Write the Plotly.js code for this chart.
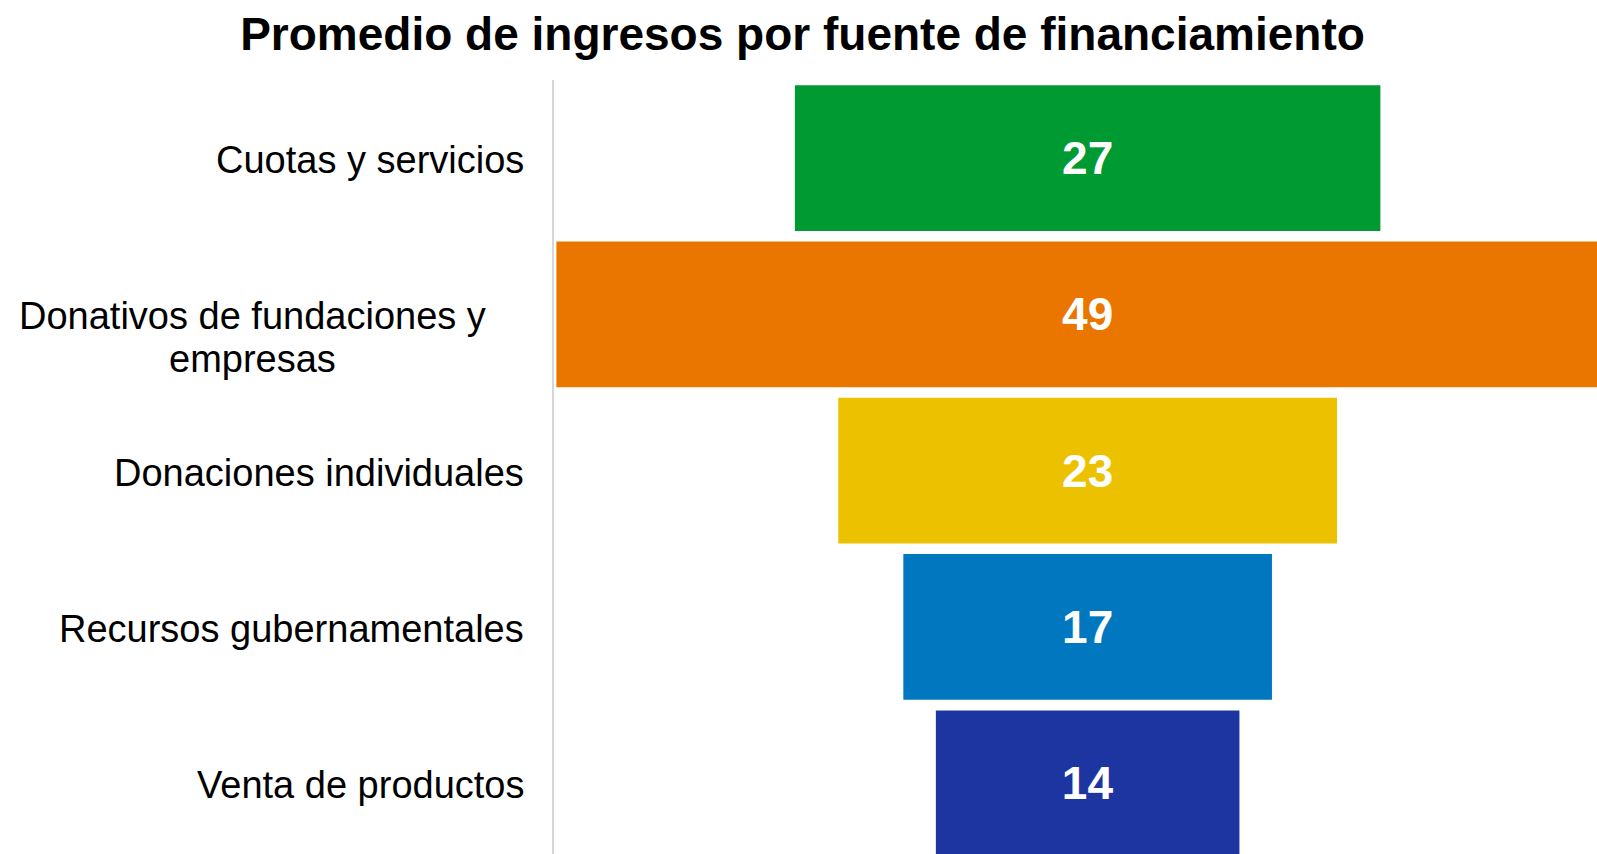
<!DOCTYPE html>
<html>
<head>
<meta charset="utf-8">
<script src="https://cdn.plot.ly/plotly-3.0.1.min.js"></script>
<style>
html,body{margin:0;padding:0;background:#fff;}
#chart{width:1597px;height:854px;}
</style>
</head>
<body>
<div id="chart"></div>
<script>
// Data
var categories = ["Cuotas y servicios", "Donativos de fundaciones y<br>empresas", "Donaciones individuales", "Recursos gubernamentales", "Venta de productos"];
var values = [27, 49, 23, 17, 14];
var colors = ["#009A33", "#EA7600", "#EBC100", "#0077BF", "#1D35A0"];
var chartTitle = "Promedio de ingresos por fuente de financiamiento";

var FONT = "Liberation Sans, Arial, Helvetica, sans-serif";
var ML = 554, PW = 1597 - ML;
function px2paper(px){ return (px - ML) / PW; }

var trace = {
  type: "funnel",
  orientation: "h",
  y: categories,
  x: values,
  marker: {color: colors, line: {width: 0}},
  connector: {visible: false},
  textposition: "inside",
  textinfo: "value",
  insidetextfont: {family: FONT, size: 46, color: "#ffffff", weight: "bold"},
  constraintext: "none",
  hoverinfo: "y+x"
};

var annotations = [];
categories.forEach(function(c, i){
  var lines = c.split("<br>");
  lines.forEach(function(line, j){
    annotations.push({
      xref: "paper", yref: "y",
      x: lines.length > 1 ? px2paper(252) : px2paper(525.5),
      xanchor: lines.length > 1 ? "center" : "right",
      y: c, yanchor: "middle",
      yshift: -2 - j * 43,
      text: line, showarrow: false,
      font: {family: FONT, size: 38, color: "#000000"}
    });
  });
});

var layout = {
  width: 1597, height: 854,
  margin: {l: ML, r: 0, t: 80, b: 0, pad: 0},
  paper_bgcolor: "#ffffff", plot_bgcolor: "#ffffff",
  title: {
    text: "<b>" + chartTitle + "</b>",
    font: {family: FONT, size: 46, color: "#000000"},
    xref: "container", x: 802.5/1597, xanchor: "center",
    yref: "container", y: 1 - 34/854, yanchor: "middle"
  },
  funnelgap: 0.068,
  showlegend: false,
  xaxis: {range: [-24.61, 23.49], showticklabels: false, showgrid: false, zeroline: false, showline: false, ticks: ""},
  yaxis: {range: [4.453, -0.5], autorange: false, showticklabels: false, showgrid: false, zeroline: false,
          showline: true, linecolor: "#d6d6d6", linewidth: 2.5, ticks: ""},
  annotations: annotations
};

Plotly.newPlot("chart", [trace], layout, {displayModeBar: false, staticPlot: true});
</script>
</body>
</html>
